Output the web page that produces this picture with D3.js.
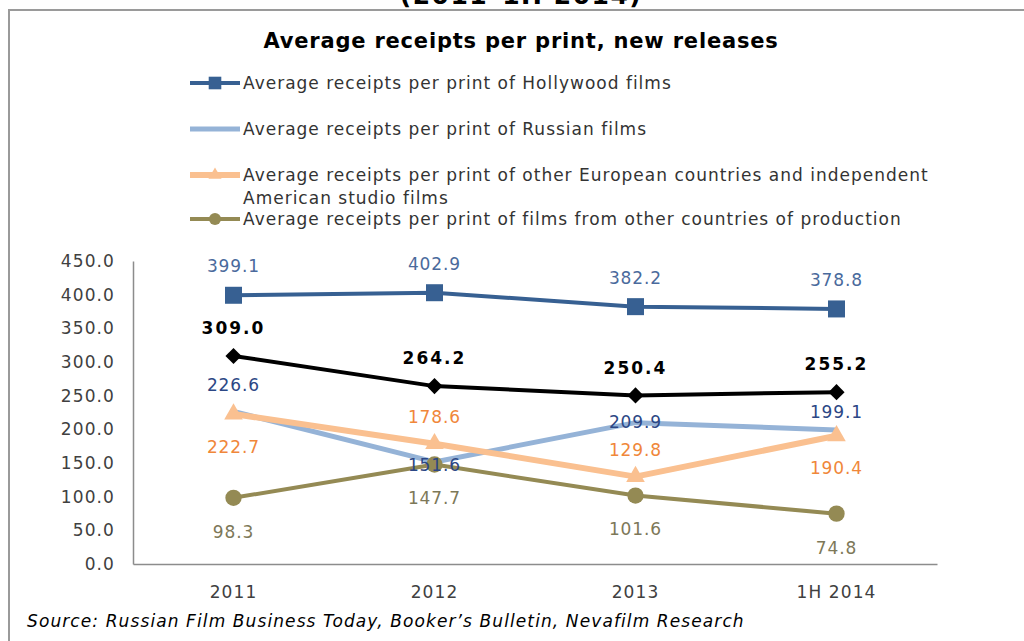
<!doctype html>
<html lang="en">
<head>
<meta charset="utf-8">
<style>
    body { margin: 0; background: #fff; }
    svg { display: block; font-family: "DejaVu Sans", Verdana, sans-serif; }
</style>
</head>
<body>
<div class="start"></div>

<script src="https://cdn.jsdelivr.net/npm/d3@7/dist/d3.min.js"></script>
<script>

    // chart data
    let periods = ['2011', '2012', '2013', '1H 2014'];
    let hollywood = [399.1, 402.9, 382.2, 378.8];
    let russian = [226.6, 151.6, 209.9, 199.1];
    let european = [222.7, 178.6, 129.8, 190.4];
    let otherCountries = [98.3, 147.7, 101.6, 74.8];
    let total = [309.0, 264.2, 250.4, 255.2];
    let yTicks = [0, 50, 100, 150, 200, 250, 300, 350, 400, 450];

    let legendNames = [
        ['Average receipts per print of Hollywood films'],
        ['Average receipts per print of Russian films'],
        ['Average receipts per print of other European countries and independent', 'American studio films'],
        ['Average receipts per print of films from other countries of production']
    ];

    // styling of each series (label offsets are in px from the point)
    let series = [
        {values: hollywood, color: '#376092', labelColor: '#4a6a9c', width: 4, marker: 'square', labelDy: [-29, -29, -29, -29], legend: 0},
        {values: russian, color: '#95b3d7', labelColor: '#2c4785', width: 5, marker: 'none', labelDy: [-27, 3, -1, -18], legend: 1},
        {values: european, color: '#fac090', labelColor: '#f0873a', width: 6, marker: 'triangle', labelDy: [33, -27, -27, 32], legend: 2},
        {values: otherCountries, color: '#948a54', labelColor: '#7d7858', width: 4, marker: 'circle', labelDy: [34, 33, 33, 34], legend: 3},
        {values: total, color: '#000000', labelColor: '#000000', width: 4, marker: 'diamond', labelDy: [-28, -28, -28, -28], bold: true}
    ];

    let width = 1024;
    let height = 641;
    let plot = {left: 133, right: 937, top: 261, bottom: 564};

    let svg = d3.select('.start').append('svg')
        .attr('width', width)
        .attr('height', height);

    // cut-off heading and frame
    svg.append('text')
        .attr('x', 521).attr('y', 4)
        .attr('text-anchor', 'middle')
        .attr('font-size', 25).attr('font-weight', 'bold')
        .attr('letter-spacing', 1.5)
        .attr('fill', '#000')
        .text('(2011–1H 2014)');

    svg.append('path')
        .attr('d', `M9,${height} V10 H${width}`)
        .attr('fill', 'none')
        .attr('stroke', '#9a9a9a')
        .attr('stroke-width', 2);

    svg.append('text')
        .attr('x', 521).attr('y', 48)
        .attr('text-anchor', 'middle')
        .attr('font-size', 21).attr('font-weight', 'bold')
        .attr('letter-spacing', 0.8)
        .attr('fill', '#000')
        .text('Average receipts per print, new releases');

    // scales
    let x = d3.scaleBand().domain(periods).range([plot.left, plot.right]);
    let y = d3.scaleLinear().domain([0, 450]).range([plot.bottom, plot.top]);
    let cx = (i) => x(periods[i]) + x.bandwidth() / 2;

    // axes
    let yAxis = svg.append('g')
        .attr('transform', `translate(${plot.left},0)`)
        .call(d3.axisLeft(y).tickValues(yTicks).tickFormat(d3.format('.1f')).tickSize(0).tickPadding(18));

    let xAxis = svg.append('g')
        .attr('transform', `translate(0,${plot.bottom})`)
        .call(d3.axisBottom(x).tickSize(0).tickPadding(22));

    [yAxis, xAxis].forEach((g) => {
        g.select('.domain').attr('stroke', '#8c8c8c').attr('stroke-width', 1.5);
        g.selectAll('text')
            .attr('font-family', '"DejaVu Sans", Verdana, sans-serif')
            .attr('font-size', 17)
            .attr('letter-spacing', 1.1)
            .attr('fill', '#404040');
    });

    // markers
    let symbolTypes = {
        square: d3.symbolSquare,
        triangle: d3.symbolTriangle,
        circle: d3.symbolCircle,
        diamond: d3.symbolSquare
    };
    let symbolSizes = {square: 289, triangle: 150, circle: 210, diamond: 130};

    function drawMarker(g, s, px, py, scale) {
        if (s.marker === 'none') return;
        let sym = d3.symbol().type(symbolTypes[s.marker]).size(symbolSizes[s.marker] * scale);
        let rot = s.marker === 'diamond' ? ' rotate(45)' : '';
        g.append('path')
            .attr('d', sym())
            .attr('transform', `translate(${px},${py})${rot}`)
            .attr('fill', s.color);
    }

    let line = d3.line()
        .x((d, i) => cx(i))
        .y((d) => y(d));

    let lines = svg.append('g').attr('class', 'lines');
    series.forEach((s) => {
        let g = lines.append('g');
        g.append('path')
            .attr('d', line(s.values))
            .attr('fill', 'none')
            .attr('stroke', s.color)
            .attr('stroke-width', s.width)
            .attr('stroke-linejoin', 'round');
        s.values.forEach((v, i) => drawMarker(g, s, cx(i), y(v), 1));
    });

    // data labels
    let labels = svg.append('g').attr('class', 'labels');
    series.forEach((s) => {
        s.values.forEach((v, i) => {
            labels.append('text')
                .attr('x', cx(i))
                .attr('y', y(v) + s.labelDy[i])
                .attr('dy', '0.36em')
                .attr('text-anchor', 'middle')
                .attr('font-size', 17)
                .attr('font-weight', s.bold ? 'bold' : 'normal')
                .attr('letter-spacing', s.bold ? 2 : 0.9)
                .attr('fill', s.labelColor)
                .text(v.toFixed(1));
        });
    });

    // legend
    let legendRows = [83, 129, 175, 219];
    let legend = svg.append('g').attr('class', 'legend');
    series.filter((s) => s.legend !== undefined).forEach((s) => {
        let ly = legendRows[s.legend];
        let g = legend.append('g');
        g.append('line')
            .attr('x1', 190).attr('x2', 240)
            .attr('y1', ly).attr('y2', ly)
            .attr('stroke', s.color)
            .attr('stroke-width', s.width);
        drawMarker(g, s, 215, ly, s.marker === 'triangle' ? 0.5 : 0.55);
        legendNames[s.legend].forEach((t, k) => {
            g.append('text')
                .attr('x', 243)
                .attr('y', ly + k * 23)
                .attr('dy', '0.36em')
                .attr('font-size', 17)
                .attr('letter-spacing', 1)
                .attr('fill', '#333')
                .text(t);
        });
    });

    // source note
    svg.append('text')
        .attr('x', 27).attr('y', 621)
        .attr('dy', '0.36em')
        .attr('font-size', 17)
        .attr('font-style', 'italic')
        .attr('letter-spacing', 1.1)
        .attr('fill', '#000')
        .text('Source: Russian Film Business Today, Booker’s Bulletin, Nevafilm Research');

</script>
</body>
</html>
